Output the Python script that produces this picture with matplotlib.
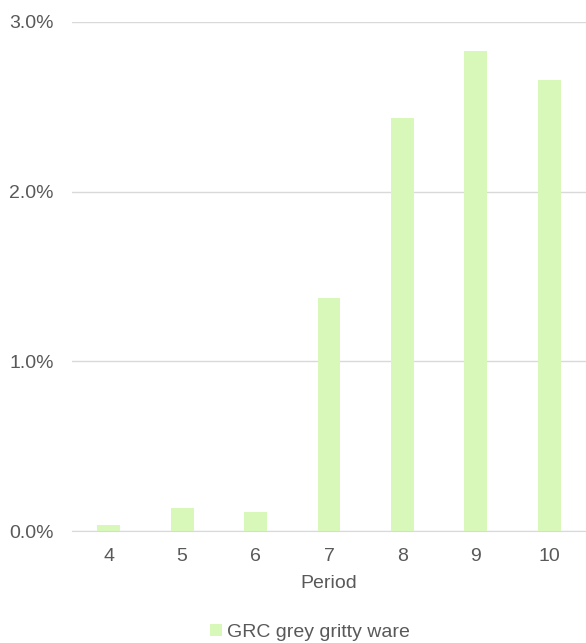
import numpy as np
import matplotlib.pyplot as plt
from matplotlib.ticker import PercentFormatter

periods = ['4', '5', '6', '7', '8', '9', '10']
values = [0.035, 0.135, 0.11, 1.373, 2.434, 2.83, 2.66]

plt.rcParams['font.family'] = ['Liberation Sans', 'DejaVu Sans']

fig = plt.figure(figsize=(5.86, 6.43), dpi=100)
ax = fig.add_axes([72/586, 1 - 531/643, 1 - 72/586, (531 - 22)/643])

x = np.arange(len(periods))
ax.bar(x, values, width=0.31, color='#d7f8b8', label='GRC grey gritty ware', zorder=3)

ax.set_xlim(-0.5, len(periods) - 0.5)
ax.set_ylim(0, 3)
ax.set_yticks([0, 1, 2, 3])
ax.yaxis.set_major_formatter(PercentFormatter(decimals=1))
ax.set_xticks(x)
ax.set_xticklabels(periods)
ax.grid(axis='y', color='#d9d9d9', linewidth=1, zorder=0)
for s in ['top', 'right', 'left']:
    ax.spines[s].set_visible(False)
ax.spines['bottom'].set_color('#d9d9d9')
ax.tick_params(axis='both', length=0, labelsize=14, colors='#595959')
ax.tick_params(axis='x', pad=12.5)
ax.tick_params(axis='y', pad=13)
ax.set_xlabel('Period', fontsize=14, color='#595959', labelpad=7)

fig.legend(loc='lower center', bbox_to_anchor=(0.529, -0.024), frameon=False, fontsize=14,
           handlelength=0.6, handleheight=0.6, handletextpad=0.25, labelcolor='#595959')

fig.savefig('out.png', dpi=100)
